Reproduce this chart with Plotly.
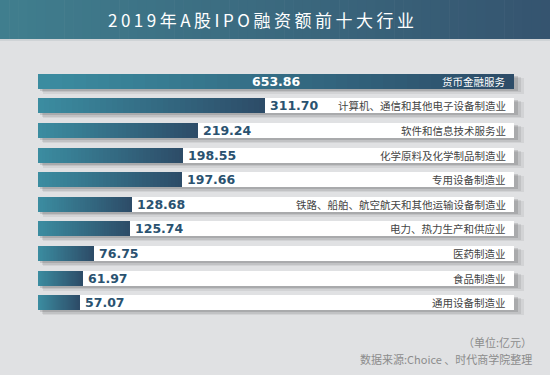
import plotly.graph_objects as go

# ---- data ----
categories = ["货币金融服务", "计算机、通信和其他电子设备制造业", "软件和信息技术服务业",
              "化学原料及化学制品制造业", "专用设备制造业", "铁路、船舶、航空航天和其他运输设备制造业",
              "电力、热力生产和供应业", "医药制造业", "食品制造业", "通用设备制造业"]
values = [653.86, 311.70, 219.24, 198.55, 197.66, 128.68, 125.74, 76.75, 61.97, 57.07]
title_text = "2019年A股IPO融资额前十大行业"
unit_text = "（单位:亿元）"
source_text = "数据来源:Choice 、时代商学院整理"

W, H = 550, 375
L, R, T, B = 38, 26, 69, 60
PW, PH = W - L - R, H - T - B
vmax = max(values)
xmax = vmax * PW / 476.0
n = len(values)
ys = list(range(n))
BW = 0.61

def lerp(c1, c2, t):
    return "#%02x%02x%02x" % tuple(round(a + (b - a) * t) for a, b in zip(c1, c2))

def px2paper_x(px):
    return (px - L) / PW

def px2paper_y(py):
    return 1 - (py - T) / PH

fig = go.Figure()

# shadows (soft, layered)
for k, (alpha, dx, dy) in enumerate([(0.06, 5, 4), (0.08, 3.5, 3), (0.12, 2, 2)]):
    fig.add_trace(go.Bar(
        y=ys, x=[vmax + dx / 0.728] * n, base=[dx / 0.728] * n, orientation="h",
        width=BW + 0.02 * (2 - k), offset=-BW / 2 + dy / 24.6,
        marker=dict(color="rgba(0,0,0,%s)" % alpha, line=dict(width=0)),
        hoverinfo="skip", showlegend=False))

# white rows
fig.add_trace(go.Bar(y=ys, x=[vmax] * n, orientation="h", width=BW,
                     marker=dict(color="white", line=dict(width=0)),
                     hoverinfo="skip", showlegend=False))

# gradient bars (stacked segments)
c_light = (0x3b, 0x8c, 0xa0)
c_dark = (0x2d, 0x4c, 0x68)
NSEG = 40
for i in range(NSEG):
    fig.add_trace(go.Bar(
        y=ys, x=[v / NSEG for v in values], base=[v * i / NSEG for v in values],
        orientation="h", width=BW,
        marker=dict(color=lerp(c_light, c_dark, i / (NSEG - 1)), line=dict(width=0)),
        hoverinfo="skip", showlegend=False))

annotations = []
for i, (c, v) in enumerate(zip(categories, values)):
    top = (v == vmax)
    if top:
        annotations.append(dict(x=v / 2, y=i, xref="x", yref="y", text="<b>%.2f</b>" % v,
                                showarrow=False, xanchor="center", yanchor="middle",
                                font=dict(family="DejaVu Sans", size=12.5, color="white")))
    else:
        annotations.append(dict(x=v, y=i, xref="x", yref="y", text="<b>%.2f</b>" % v,
                                showarrow=False, xanchor="left", yanchor="middle", xshift=3,
                                font=dict(family="DejaVu Sans", size=12.5, color="#2a5270")))
    annotations.append(dict(x=vmax, y=i, xref="x", yref="y", text=c, showarrow=False,
                            xanchor="right", yanchor="middle", xshift=-6,
                            font=dict(family="Noto Sans CJK SC", size=10.5,
                                      color="white" if top else "#444444")))

# title
annotations.append(dict(x=px2paper_x(262), y=px2paper_y(20), xref="paper", yref="paper",
                        text='<span style="letter-spacing:3.5px">%s</span>' % title_text,
                        showarrow=False, xanchor="center", yanchor="middle",
                        font=dict(family="Noto Sans CJK SC", size=17, color="white")))
annotations.append(dict(x=px2paper_x(534), y=px2paper_y(342), xref="paper", yref="paper",
                        text=unit_text, showarrow=False, xanchor="right", yanchor="middle",
                        font=dict(family="Noto Sans CJK SC", size=11, color="#8c8c8c")))
annotations.append(dict(x=px2paper_x(534), y=px2paper_y(359), xref="paper", yref="paper",
                        text=source_text, showarrow=False, xanchor="right", yanchor="middle",
                        font=dict(family="Noto Sans CJK SC", size=11, color="#8c8c8c")))

# title band gradient
shapes = []
t_left = (0x40, 0x7e, 0x8e)
t_right = (0x35, 0x54, 0x6f)
NS = 60
for i in range(NS):
    x0 = W * i / NS
    x1 = W * (i + 1) / NS + 0.6
    shapes.append(dict(type="rect", xref="paper", yref="paper",
                       x0=px2paper_x(x0), x1=px2paper_x(x1),
                       y0=px2paper_y(39), y1=px2paper_y(0),
                       fillcolor=lerp(t_left, t_right, i / (NS - 1)), line=dict(width=0),
                       layer="below"))
shapes.append(dict(type="rect", xref="paper", yref="paper",
                   x0=px2paper_x(0), x1=px2paper_x(W), y0=px2paper_y(41), y1=px2paper_y(39),
                   fillcolor="#cfd3d6", line=dict(width=0), layer="below"))

fig.update_layout(
    width=W, height=H, margin=dict(l=L, r=R, t=T, b=B),
    paper_bgcolor="#e0e1e3", plot_bgcolor="rgba(0,0,0,0)",
    barmode="overlay", bargap=0,
    xaxis=dict(range=[0, xmax], visible=False, fixedrange=True),
    yaxis=dict(range=[n - 0.5, -0.5], visible=False, fixedrange=True),
    annotations=annotations, shapes=shapes, showlegend=False,
)

fig.write_html("out.html", config={"displayModeBar": False},
               post_script="document.body.style.margin='0';document.body.style.overflow='hidden';")
